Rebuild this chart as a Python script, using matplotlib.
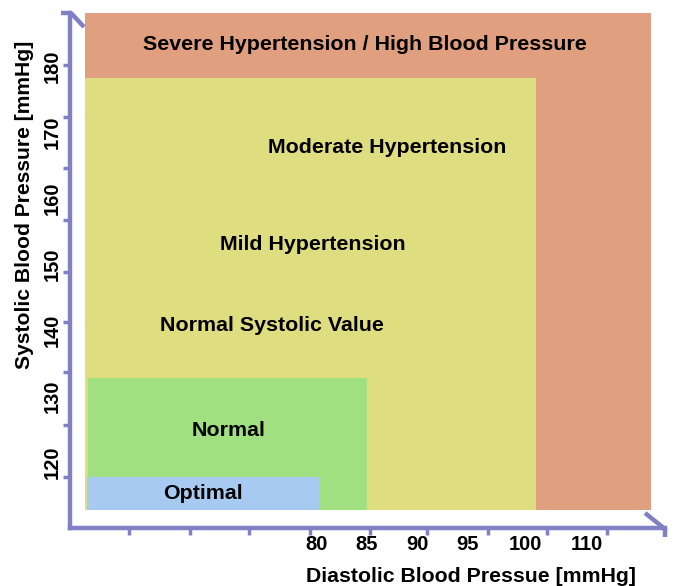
import numpy as np
import matplotlib
matplotlib.use("Agg")
import matplotlib.pyplot as plt

plt.rcParams['font.family'] = ['Liberation Sans', 'DejaVu Sans']
plt.rcParams['font.weight'] = 'bold'

# blood pressure zones (diastolic on x, systolic on y)
zone_names = ['severe', 'hypertension', 'normal', 'optimal']
dia_lo = [57.0, 57.0, 57.3, 57.2]
dia_hi = [113.2, 101.8, 85.0, 80.3]
sys_lo = [112.7, 112.7, 112.7, 112.7]
sys_hi = [188.0, 178.2, 132.7, 117.7]
zone_colors = ['#E0A080', '#DEDE80', '#A0E080', '#A6CAF0']

label_text = ['Severe Hypertension / High Blood Pressure', 'Moderate Hypertension',
              'Mild Hypertension', 'Normal Systolic Value', 'Normal', 'Optimal']
label_dia = [84.8, 87.05, 79.6, 75.6, 71.2, 68.7]
label_sys = [183.2, 167.6, 152.9, 140.6, 124.8, 115.3]

# tick labels sit where the picture puts them
xtick_pos = [80, 85, 90, 95, 100.7, 106.8]
xtick_lab = ['80', '85', '90', '95', '100', '110']
ytick_pos = [120, 130, 140, 150, 160, 170, 180]
ytick_lab = ['120', '130', '140', '150', '160', '170', '180']
# little tick nubs on the axis lines
x_nubs = [61.4, 67.4, 73.3, 79.3, 85.3, 91.0, 97.0, 102.9, 108.8]
y_nubs = [117.7, 125.6, 133.6, 141.2, 148.8, 156.7, 164.5, 172.3, 180.2]

W, H = 678, 586
axis_col = '#8080C4'

fig = plt.figure(figsize=(W / 100, H / 100), dpi=100)
ax = fig.add_axes([70 / W, 1 - 528 / H, 595 / W, 515 / H])
ax.set_xlim(55.5, 114.6)
ax.set_ylim(110.0, 188.0)
ax.set_facecolor('none')

ax.bar(dia_lo, np.array(sys_hi) - np.array(sys_lo), width=np.array(dia_hi) - np.array(dia_lo),
       bottom=sys_lo, align='edge', color=zone_colors, linewidth=0, zorder=1)

for t, x, y in zip(label_text, label_dia, label_sys):
    ax.text(x, y, t, ha='center', va='center', fontsize=15.4, fontweight='bold', zorder=3)

for s in ['top', 'right']:
    ax.spines[s].set_visible(False)
for s in ['left', 'bottom']:
    ax.spines[s].set_color(axis_col)
    ax.spines[s].set_linewidth(3.2)
    ax.spines[s].set_capstyle('projecting')

ax.set_xticks(x_nubs)
ax.set_xticklabels([])
ax.set_yticks(y_nubs)
ax.set_yticklabels([])
ax.tick_params(which='major', direction='out', length=5, width=2.5, color=axis_col)

ax.set_xticks(xtick_pos, xtick_lab, minor=True)
ax.set_yticks(ytick_pos, ytick_lab, minor=True)
ax.tick_params(axis='x', which='minor', length=0, pad=5, labelsize=14.5)
ax.tick_params(axis='y', which='minor', length=0, pad=6, labelsize=14.5, labelrotation=90)
for lab in ax.get_xticklabels(minor=True) + ax.get_yticklabels(minor=True):
    lab.set_fontweight('bold')
for lab in ax.get_yticklabels(minor=True):
    lab.set_va('center')


def px(xs, ys):
    return [x / W for x in xs], [1 - y / H for y in ys]


# 3d-ish end caps on the axis lines
for xs, ys in [([61, 71], [13, 13]), ([71, 84], [13, 27]),
               ([645, 665, 665], [513, 529, 537])]:
    fx, fy = px(xs, ys)
    fig.add_artist(plt.Line2D(fx, fy, color=axis_col, linewidth=3.2,
                              solid_capstyle='butt', solid_joinstyle='miter'))

fig.text(471 / W, 1 - 577 / H, 'Diastolic Blood Pressue [mmHg]', ha='center', va='center',
         fontsize=15.3, fontweight='bold')
fig.text(25 / W, 1 - 205 / H, 'Systolic Blood Pressure [mmHg]', ha='center', va='center',
         rotation=90, fontsize=15.2, fontweight='bold')

fig.savefig('out.png', dpi=100)
